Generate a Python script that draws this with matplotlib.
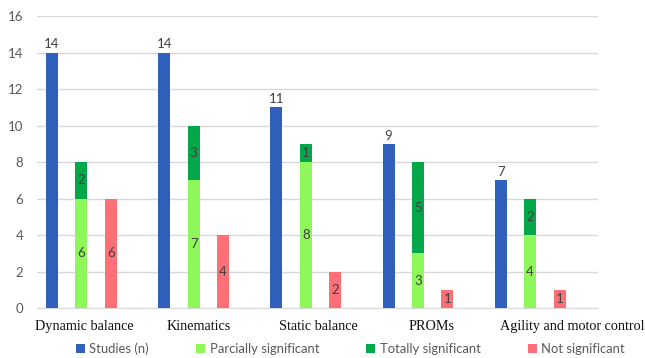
import numpy as np
import matplotlib.pyplot as plt

categories = ["Dynamic balance", "Kinematics", "Static balance", "PROMs",
              "Agility and motor control"]
studies = [14, 14, 11, 9, 7]
partial = [6, 7, 8, 3, 4]
total = [2, 3, 1, 5, 2]
not_sig = [6, 4, 2, 1, 1]

blue = "#3060BE"
light_green = "#8EF75A"
dark_green = "#00A84A"
red = "#FF6F78"
txt = "#404040"

fig = plt.figure(figsize=(6.45, 3.58), dpi=100)
ax = fig.add_axes([0.0574, 0.1397, 0.8696, 0.8153])

x = np.arange(len(categories))
w = 0.107
step = 0.262
xb = x - 0.366
xg = xb + step
xr = xg + step

ax.bar(xb, studies, w, color=blue, zorder=3, label="Studies (n)")
ax.bar(xg, partial, w, color=light_green, zorder=3, label="Parcially significant")
ax.bar(xg, total, w, bottom=partial, color=dark_green, zorder=3,
       label="Totally significant")
ax.bar(xr, not_sig, w, color=red, zorder=3, label="Not significant")

lab = dict(fontsize=9.5, color=txt, family="Lato", ha="center")
for i in range(len(categories)):
    ax.text(xb[i], studies[i] + 0.12, str(studies[i]), va="bottom", **lab)
    ax.text(xg[i], partial[i] / 2, str(partial[i]), va="center", **lab)
    ax.text(xg[i], partial[i] + total[i] / 2, str(total[i]), va="center", **lab)
    ax.text(xr[i], not_sig[i] / 2, str(not_sig[i]), va="center", **lab)

ax.set_xlim(-0.5, len(categories) - 0.5)
ax.set_ylim(0, 16)
ax.set_yticks(range(0, 17, 2))
ax.yaxis.grid(True, color="#D9D9D9", linewidth=1, zorder=0)
ax.tick_params(axis="y", length=0, pad=10, labelsize=9.5, labelcolor="#595959")
for lbl in ax.get_yticklabels():
    lbl.set_family("Lato")
for s in ["top", "right", "left"]:
    ax.spines[s].set_visible(False)
ax.spines["bottom"].set_color("#D9D9D9")

# category names sit under each group, a little off-centre in places
name_shift = [-0.08, -0.06, 0.01, 0.02, 0.27]
ax.set_xticks([])
for i, name in enumerate(categories):
    ax.text(x[i] + name_shift[i], -1.0, name, ha="center", va="center",
            fontsize=10.2, family="Liberation Serif", color="#111111")

leg = fig.legend(loc="lower center", bbox_to_anchor=(0.543, -0.025), ncol=4,
                 frameon=False, handlelength=0.7, handleheight=0.7,
                 handletextpad=0.35, columnspacing=3.6,
                 prop={"family": "Lato", "size": 9.4})
for t in leg.get_texts():
    t.set_color("#595959")

fig.savefig("out.png", dpi=100)
